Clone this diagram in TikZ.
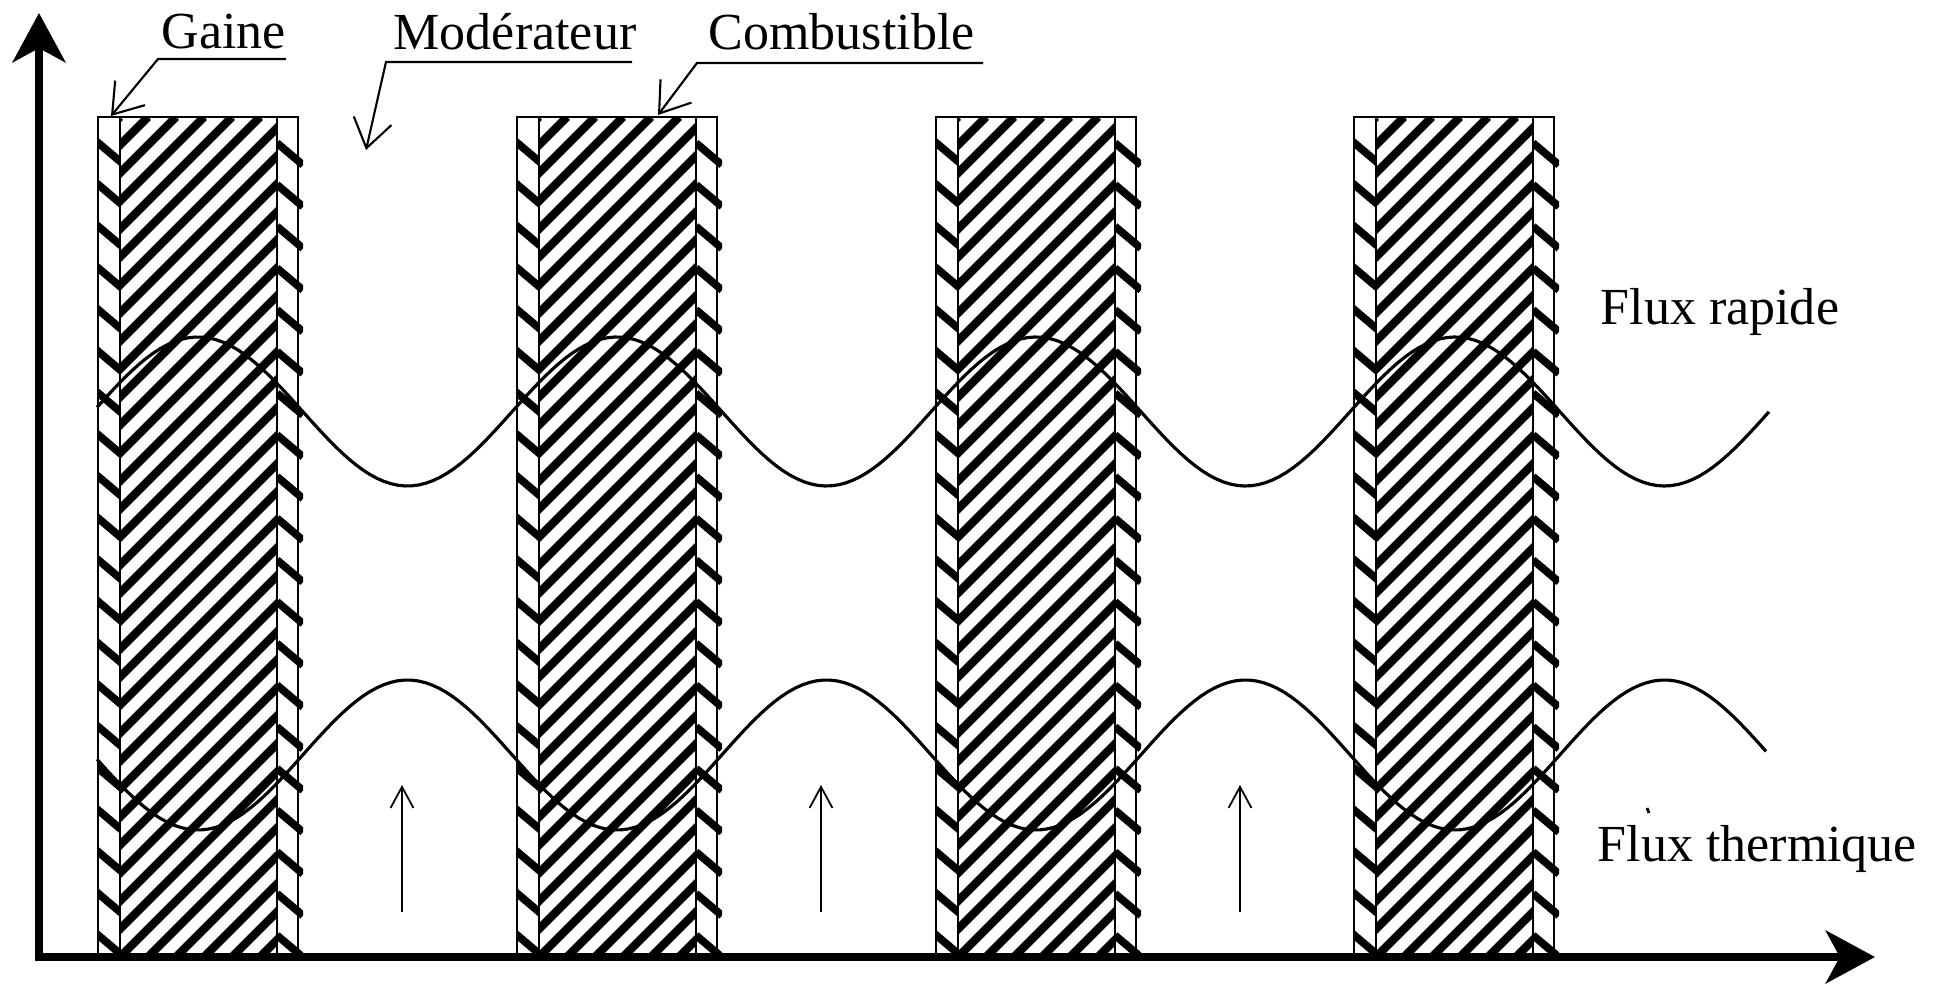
\documentclass[tikz,border=0pt]{standalone}
\usepackage{fontspec}
\setmainfont{Liberation Serif}
\usetikzlibrary{arrows.meta}
\tikzset{
  axis/.style={line width=2.3pt, line join=miter,
    {Stealth[length=14pt, width=15pt, inset=4pt]}-{Stealth[length=14pt, width=15pt, inset=4pt]}},
  edge/.style={line width=0.6pt},
  hatch/.style={line width=2.4pt},
  cladtick/.style={line width=2.2pt},
  flux/.style={line width=0.9pt, line join=round},
  lead/.style={line width=0.6pt, -{Straight Barb[length=8pt, width=11pt]}},
  uparr/.style={line width=0.5pt, -{Straight Barb[length=6pt, width=6.5pt]}},
  lbl/.style={font=\fontsize{14.8}{18}\selectfont, inner sep=0pt, anchor=base west},
}

\begin{document}
\begin{tikzpicture}[x=0.1mm, y=-0.1mm]

  \fill[white] (0,0) rectangle (1943,984);

  % Fuel rods
  \foreach \L in {98,517,936,1354} {
    % hatched fuel
    \begin{scope}
      \clip (\L+22,117) rectangle (\L+179,957);
      \foreach \s in {-840,-812,...,160}
        \draw[hatch] (\L+22+\s,957) -- ++(840,-840);
    \end{scope}
    % cladding ticks
    \begin{scope}
      \clip (\L,117) rectangle (\L+22,957);
      \foreach \k in {0,...,19}
        \draw[cladtick] (\L-2,141+41.7*\k) -- ++(26,22);
    \end{scope}
    \begin{scope}
      \clip (\L+179,117) rectangle (\L+205,957);
      \foreach \k in {0,...,19}
        \draw[cladtick] (\L+179,143+41.7*\k) -- ++(26,22);
    \end{scope}
    % outlines
    \draw[edge] (\L,957) -- (\L,117) -- (\L+200,117) -- (\L+200,957);
    \draw[edge] (\L+22,117) -- (\L+22,957);
    \draw[edge] (\L+179,117) -- (\L+179,957);
  }

  % Axes
  \coordinate (ytip) at (39,13);
  \coordinate (O) at (39,957);
  \coordinate (xtip) at (1875,957);
  \draw[axis] (ytip) -- (O) -- (xtip);

  % Flux curves
  \draw[flux] plot[domain=97:1769, samples=240]
    (\x, {411.5-74.5*cos(0.85919*(\x-198))});
  \draw[flux] plot[domain=97:1766, samples=240]
    (\x, {755+75*cos(0.85919*(\x-198))});

  % Arrows in the moderator
  \foreach \i/\x in {1/402,2/821,3/1240} {
    \coordinate (arrB\i) at (\x,912);
    \coordinate (arrT\i) at (\x,785);
    \draw[uparr] (arrB\i) -- (arrT\i);
  }

  % Labels
  \node[lbl] (gaine) at (161,49) {Gaine};
  \node[lbl] (moder) at (393,50) {Modérateur};
  \node[lbl] (combus) at (708,50) {Combustible};
  \node[lbl] (frapide) at (1600,325) {Flux rapide};
  \node[lbl] (ftherm) at (1597,862) {Flux thermique};
  \draw[line width=0.8pt] (1647,808) -- (1649,813);

  % Leaders
  \coordinate (gaineE) at (286,59);
  \coordinate (gaineU) at (158,59);
  \coordinate (gaineTip) at (111,116);
  \draw[lead] (gaineE) -- (gaineU) -- (gaineTip);

  \coordinate (moderE) at (632,62);
  \coordinate (moderU) at (386,62);
  \coordinate (moderTip) at (366,150);
  \draw[lead] (moderE) -- (moderU) -- (moderTip);

  \coordinate (combusE) at (983,63);
  \coordinate (combusU) at (697,63);
  \coordinate (combusTip) at (658,115);
  \draw[lead] (combusE) -- (combusU) -- (combusTip);

\end{tikzpicture}
\end{document}
